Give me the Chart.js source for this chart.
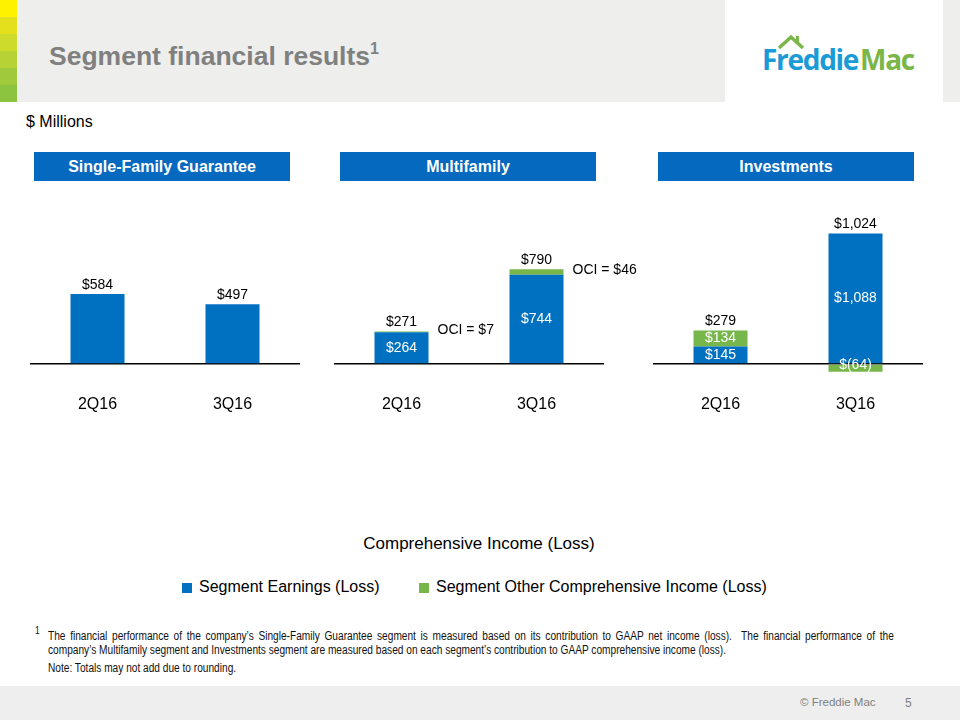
<!DOCTYPE html>
<html lang="en">
<head>
<meta charset="UTF-8">
<title>Segment financial results</title>
<script src="https://cdn.jsdelivr.net/npm/chart.js"></script>
<style>
  body { margin: 0; width: 960px; height: 720px; position: relative; overflow: hidden; background: #fff;
         font-family: "Liberation Sans", Arial, sans-serif; }
  .abs { position: absolute; }
  .band { left: 17px; top: 0; width: 708px; height: 102px; background: #eeeeec; }
  .band-r { left: 943px; top: 0; width: 17px; height: 102px; background: #eeeeec; }
  .stripe { left: 0; width: 17px; height: 17px; }
  .title { left: 49px; top: 40px; font-size: 26.5px; font-weight: bold; color: #808080; }
  .title sup { font-size: 16px; vertical-align: 11px; }
  .units { left: 26px; top: 113px; font-size: 16px; }
  .seg { top: 152px; width: 256px; height: 29px; background: #0569bf; color: #fff; font-weight: bold;
         font-size: 16px; line-height: 29px; text-align: center; }
  canvas { position: absolute; top: 190px; }
  .lg-title { left: 0; width: 958px; top: 534px; text-align: center; font-size: 17px; }
  .lg-box { top: 583px; width: 10px; height: 10px; }
  .lg-text { top: 578px; font-size: 16px; }
  .foot { font-size: 12px; color: #111; transform-origin: left top; transform: scaleX(0.845); }
  .note { left: 48px; top: 629px; width: 1001px; line-height: 14px; text-align: justify; }
  .footer { left: 0; top: 686px; width: 960px; height: 34px; background: #eeeeee; }
  .copy { top: 696px; font-size: 12px; color: #808080; }
</style>
</head>
<body>
<div class="abs band"></div>
<div class="abs band-r"></div>
<div class="abs stripe" style="top:0;background:#fff200"></div>
<div class="abs stripe" style="top:17px;background:#e4e11c"></div>
<div class="abs stripe" style="top:34px;background:#cddb2a"></div>
<div class="abs stripe" style="top:51px;background:#b6d235"></div>
<div class="abs stripe" style="top:68px;background:#a0ca3b"></div>
<div class="abs stripe" style="top:85px;background:#8cc33f"></div>
<div class="abs title">Segment financial results<sup>1</sup></div>

<svg class="abs" style="left:755px;top:28px" width="170" height="50">
  <polyline points="24,20 36,9 48,20" fill="none" stroke="#7ab648" stroke-width="3.5"/>
  <rect x="41" y="8" width="3" height="7" fill="#7ab648"/>
  <text x="7" y="42" font-family="'Open Sans', sans-serif" font-weight="bold" font-size="28" letter-spacing="-1.3"><tspan fill="#1a9ad6">Freddie</tspan><tspan fill="#7ab648" dx="2">Mac</tspan></text>
</svg>

<div class="abs units">$ Millions</div>
<div class="abs seg" style="left:34px">Single-Family Guarantee</div>
<div class="abs seg" style="left:340px">Multifamily</div>
<div class="abs seg" style="left:658px">Investments</div>

<canvas id="sfg" width="350" height="230" style="left:-10px"></canvas>
<canvas id="mf" width="350" height="230" style="left:294px"></canvas>
<canvas id="inv" width="350" height="230" style="left:613px"></canvas>

<div class="abs lg-title">Comprehensive Income (Loss)</div>
<div class="abs lg-box" style="left:182px;background:#0070c0"></div>
<div class="abs lg-text" style="left:199px">Segment Earnings (Loss)</div>
<div class="abs lg-box" style="left:419px;background:#77b64a"></div>
<div class="abs lg-text" style="left:436px">Segment Other Comprehensive Income (Loss)</div>

<div class="abs foot" style="left:35px;top:625px;font-size:10px">1</div>
<div class="abs foot note">The financial performance of the company’s Single-Family Guarantee segment is measured based on its contribution to GAAP net income (loss).&nbsp; The financial performance of the company’s Multifamily segment and Investments segment are measured based on each segment’s contribution to GAAP comprehensive income (loss).</div>
<div class="abs foot" style="left:48px;top:661px">Note: Totals may not add due to rounding.</div>

<div class="abs footer"></div>
<div class="abs copy" style="left:800px;font-size:11.5px">© Freddie Mac</div>
<div class="abs copy" style="left:905px">5</div>

<script>
const quarters = ['2Q16', '3Q16'];
const sfgEarnings = [584, 497];
const sfgOci = [null, null];
const mfEarnings = [264, 744];
const mfOci = [7, 46];
const invEarnings = [145, 1088];
const invOci = [134, -64];

const earnBlue = '#0070c0';
const ociGreen = '#77b64a';
const fontFamily = '"Liberation Sans", Arial, sans-serif';

const fmt = v => v < 0 ? '$(' + Math.abs(v).toLocaleString('en-US') + ')' : '$' + v.toLocaleString('en-US');

// value labels: totals above, optional white labels inside, optional "OCI = " note
const segLabels = {
  id: 'segLabels',
  afterDatasetsDraw(chart, args, opts) {
    const ctx = chart.ctx;
    ctx.save();
    ctx.font = '14px ' + fontFamily;
    chart.data.labels.forEach((lab, i) => {
      let total = 0, top = Infinity;
      chart.data.datasets.forEach((ds, d) => {
        const v = ds.data[i];
        if (v == null) return;
        total += v;
        const bar = chart.getDatasetMeta(d).data[i];
        top = Math.min(top, bar.y, bar.base);
        const mid = (bar.y + bar.base) / 2;
        if (opts.inner && opts.inner[d]) {
          ctx.fillStyle = '#fff';
          ctx.textAlign = 'center';
          ctx.textBaseline = 'middle';
          ctx.fillText(fmt(v), bar.x, v < 0 ? mid - 3 : mid);
        }
        if (opts.oci && d === 1) {
          ctx.fillStyle = '#000';
          ctx.textAlign = 'left';
          ctx.textBaseline = 'middle';
          ctx.fillText('OCI = ' + fmt(v), bar.x + bar.width / 2 + 9, mid - 2);
        }
      });
      ctx.fillStyle = '#000';
      ctx.textAlign = 'center';
      ctx.textBaseline = 'bottom';
      ctx.fillText(fmt(total), chart.getDatasetMeta(0).data[i].x, top - 2);
    });
    ctx.restore();
  }
};

function makeChart(id, earnings, oci, labelOpts) {
  new Chart(document.getElementById(id), {
    type: 'bar',
    data: {
      labels: quarters,
      datasets: [
        { label: 'Segment Earnings (Loss)', data: earnings, backgroundColor: earnBlue },
        { label: 'Segment Other Comprehensive Income (Loss)', data: oci, backgroundColor: ociGreen }
      ]
    },
    options: {
      responsive: false,
      animation: false,
      devicePixelRatio: 1,
      layout: { padding: { left: 40, right: 40, top: 18, bottom: 0 } },
      datasets: { bar: { barPercentage: 0.4, categoryPercentage: 1 } },
      plugins: { legend: { display: false }, tooltip: { enabled: false }, segLabels: labelOpts },
      scales: {
        x: {
          stacked: true,
          grid: { display: false, drawTicks: false },
          border: { display: false },
          ticks: { color: '#000', font: { size: 16, family: fontFamily }, padding: 7 },
          afterFit: a => { a.height = 32; }
        },
        y: {
          stacked: true, min: -200, max: 1300, z: 1,
          ticks: { display: false, stepSize: 100 },
          border: { display: false },
          grid: {
            drawTicks: false,
            color: c => c.tick.value === 0 ? '#000' : 'rgba(0,0,0,0)',
            lineWidth: c => c.tick.value === 0 ? 1.5 : 0
          },
          afterFit: a => { a.width = 0; }
        }
      }
    },
    plugins: [segLabels]
  });
}

makeChart('sfg', sfgEarnings, sfgOci, { inner: [false, false], oci: false });
makeChart('mf', mfEarnings, mfOci, { inner: [true, false], oci: true });
makeChart('inv', invEarnings, invOci, { inner: [true, true], oci: false });
</script>
</body>
</html>
